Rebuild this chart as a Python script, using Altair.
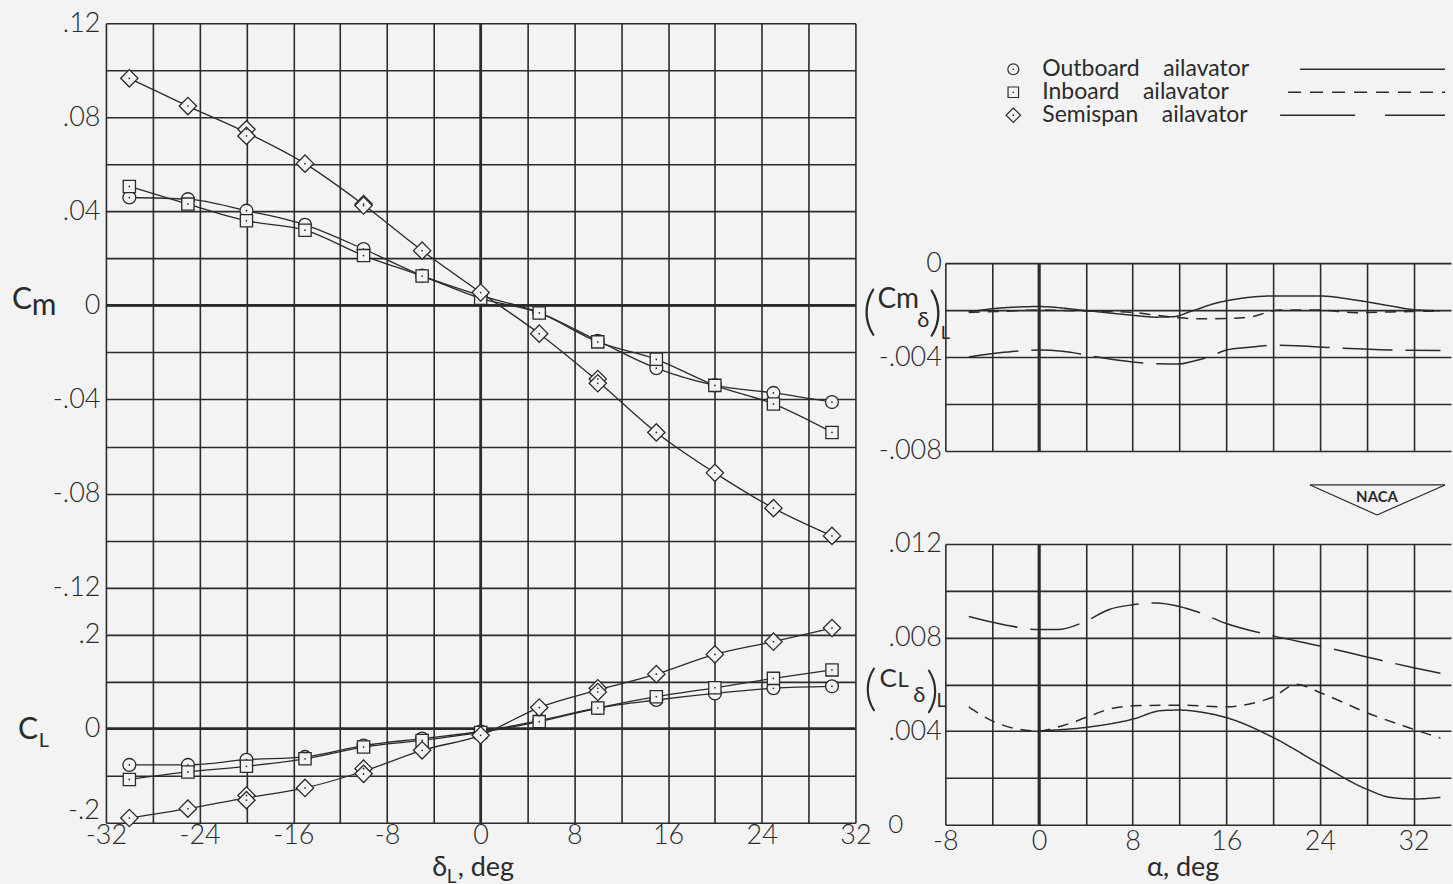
import altair as alt
import pandas as pd

BG = "#f3f3f3"
INK = "#2b2b2b"
FONT = "Lato"
NBSP = "\u00a0"

# ---------------- left panel: Cm and CL against delta_L ----------------
delta_deg = [-30, -25, -20, -15, -10, -5, 0, 5, 10, 15, 20, 25, 30]
cm_outboard = [0.0459, 0.0452, 0.0403, 0.0343, 0.0240, 0.0127, 0.0042, -0.0030, -0.0150, -0.0267, -0.0340, -0.0372, -0.0411]
cm_inboard = [0.0506, 0.0431, 0.0360, 0.0320, 0.0212, 0.0125, 0.0030, -0.0032, -0.0155, -0.0229, -0.0340, -0.0419, -0.0540]
cm_semispan = [0.0966, 0.0848, 0.0749, 0.0603, 0.0431, 0.0233, 0.0055, -0.0120, -0.0313, -0.0540, -0.0712, -0.0862, -0.0980]
cl_outboard = [-0.077, -0.077, -0.066, -0.060, -0.036, -0.021, -0.006, 0.017, 0.044, 0.061, 0.075, 0.086, 0.090]
cl_inboard = [-0.108, -0.092, -0.080, -0.064, -0.039, -0.025, -0.008, 0.015, 0.044, 0.068, 0.087, 0.107, 0.125]
cl_semispan = [-0.190, -0.170, -0.142, -0.126, -0.085, -0.046, -0.014, 0.045, 0.086, 0.116, 0.158, 0.185, 0.214]
# repeat runs of the semispan ailavator
rep_delta = [-20, -10, 10]
rep_cm = [0.0721, 0.0425, -0.0331]
rep_cl = [-0.152, -0.096, 0.078]

# ---------------- right panels: derivatives against alpha ----------------
alpha_cm_out = [-6, -3, 0, 4, 8, 10, 11.5, 13, 15, 17, 20, 24, 27, 30, 32, 34.3]
cmd_out = [-0.00207, -0.0019, -0.00185, -0.00202, -0.00222, -0.0023, -0.00228, -0.00205, -0.00172, -0.00152, -0.0014, -0.0014, -0.00157, -0.00182, -0.00198, -0.00203]
alpha_cm_in = [-6, -3, 0, 4, 8, 10, 12, 14, 16, 18, 19.5, 20.5, 24, 27, 30, 34.3]
cmd_in = [-0.0021, -0.00205, -0.002, -0.00204, -0.0021, -0.00222, -0.00233, -0.00237, -0.00236, -0.0023, -0.0021, -0.002, -0.002, -0.00211, -0.00208, -0.00204]
alpha_cm_semi = [-6, -3, 0, 2, 5, 8, 10, 12, 13, 14.5, 16, 18, 20, 22, 26, 30, 34.3]
cmd_semi = [-0.004, -0.0038, -0.0037, -0.00375, -0.004, -0.00421, -0.00428, -0.0043, -0.0042, -0.004, -0.0037, -0.00358, -0.0035, -0.00352, -0.00363, -0.0037, -0.00372]

alpha_cl_out = [0, 4, 8, 10.5, 12, 14, 16, 20, 24, 28, 30, 32, 34.3]
cld_out = [0.00401, 0.00416, 0.00451, 0.00488, 0.0049, 0.0048, 0.00458, 0.00373, 0.00259, 0.00152, 0.00117, 0.0011, 0.00117]
alpha_cl_in = [-6, -4, -2, 0, 2, 4, 6, 8, 12, 16, 18.5, 20, 22, 24, 28, 32, 34.3]
cld_in = [0.00504, 0.00444, 0.00411, 0.00401, 0.00423, 0.00458, 0.00494, 0.00508, 0.00511, 0.00504, 0.00522, 0.00546, 0.006, 0.00565, 0.00479, 0.00408, 0.0037]
alpha_cl_semi = [-6, -3, 0, 1.6, 4, 6, 8, 10, 12, 13.5, 16, 20, 24, 28, 32, 34.3]
cld_semi = [0.0089, 0.00855, 0.00834, 0.00834, 0.0087, 0.0092, 0.0094, 0.00948, 0.00933, 0.0091, 0.0086, 0.00807, 0.00764, 0.00717, 0.00671, 0.00647]

# ---------------- series, ticks, labels ----------------
series_keys = ["outboard", "inboard", "semispan"]
series_names = ["Outboard ailavator", "Inboard ailavator", "Semispan ailavator"]
series_shapes = ["circle", "square", "diamond"]
series_sizes = [165, 150, 300]
legend_sizes = [120, 110, 210]
series_dash = [[1, 0], [11, 8], [50, 13]]

left_x_grid = [-32, -28, -24, -20, -16, -12, -8, -4, 0, 4, 8, 12, 16, 20, 24, 28, 32]
left_x_labels = [-32, -24, -16, -8, 0, 8, 16, 24, 32]
cm_grid = [0.12, 0.10, 0.08, 0.06, 0.04, 0.02, 0.0, -0.02, -0.04, -0.06, -0.08, -0.10,
           -0.12, -0.14, -0.16, -0.18, -0.20, -0.22]
cm_label_values = [0.12, 0.08, 0.04, 0.0, -0.04, -0.08, -0.12]
cm_label_text = [".12", ".08", ".04", "0", "-.04", "-.08", "-.12"]
cl_label_values = [0.2, 0.0]
cl_label_text = [".2", "0"]
cl_bottom_label = "-.2"          # lowest CL label, lifted clear of the x labels as in the original
CM_DOMAIN = [-0.22, 0.12]
CL_DOMAIN = [-0.2, 1.5]

right_x_grid = [-8, -4, 0, 4, 8, 12, 16, 20, 24, 28, 32]
right_x_labels = [-8, 0, 8, 16, 24, 32]
top_y_grid = [0.0, -0.002, -0.004, -0.006, -0.008]
top_label_values = [0.0, -0.004, -0.008]
top_label_text = ["0", "-.004", "-.008"]
bot_y_grid = [0.012, 0.010, 0.008, 0.006, 0.004, 0.002, 0.0]
bot_label_values = [0.012, 0.008, 0.004]
bot_label_text = [".012", ".008", ".004"]
bot_zero_label = "0"


def label_expr(values, texts):
    expr = "''"
    for v, t in zip(reversed(values), reversed(texts)):
        expr = f"(abs(datum.value - ({v!r})) < 1e-7 ? '{t}' : {expr})"
    return expr


def note(text, x, y, size, align="center", baseline="alphabetic", weight=400):
    return alt.Chart(pd.DataFrame({"t": [text]})).mark_text(
        align=align, baseline=baseline, fontSize=size, font=FONT, color=INK, fontWeight=weight
    ).encode(x=alt.value(x), y=alt.value(y), text="t:N")


def pin(x, y):
    return alt.Chart(pd.DataFrame({"t": [0]})).mark_rule(color=BG, strokeWidth=0.5).encode(
        x=alt.value(x), x2=alt.value(x + 1), y=alt.value(y), y2=alt.value(y + 1)
    )


# CL tick labels sit on the shared grid: convert their CL values to grid (Cm) positions
cl_label_pos = [CM_DOMAIN[0] + (v - CL_DOMAIN[0]) / (CL_DOMAIN[1] - CL_DOMAIN[0]) * (CM_DOMAIN[1] - CM_DOMAIN[0])
                for v in cl_label_values]

dash_enc = alt.StrokeDash("series:N", scale=alt.Scale(domain=series_keys, range=series_dash), legend=None)

# ---------------- left chart ----------------
rows = []
for key, cms, cls in zip(series_keys, [cm_outboard, cm_inboard, cm_semispan], [cl_outboard, cl_inboard, cl_semispan]):
    for d, cm, cl in zip(delta_deg, cms, cls):
        rows.append({"series": key, "delta": d, "Cm": cm, "CL": cl})
for d, cm, cl in zip(rep_delta, rep_cm, rep_cl):
    rows.append({"series": "semispan", "delta": d, "Cm": cm, "CL": cl})
left_df = pd.DataFrame(rows)

xs_left = alt.Scale(domain=[-32, 32], nice=False, zero=False)
cm_scale = alt.Scale(domain=CM_DOMAIN, nice=False, zero=False)
cl_scale = alt.Scale(domain=CL_DOMAIN, nice=False, zero=False)
x_axis_left = alt.Axis(values=left_x_grid, title=None, grid=True, labelPadding=0,
                       labelExpr=label_expr(left_x_labels, [str(v) for v in left_x_labels]))
y_axis_left = alt.Axis(values=cm_grid, title=None, grid=True, labelPadding=6,
                       labelExpr=label_expr(cm_label_values + cl_label_pos, cm_label_text + cl_label_text))
XL = alt.X("delta:Q", scale=xs_left, axis=x_axis_left)

base = alt.Chart(left_df)
heavy_x = alt.Chart(pd.DataFrame({"delta": [0]})).mark_rule(color=INK, strokeWidth=2.8).encode(x=XL)
heavy_cm = alt.Chart(pd.DataFrame({"Cm": [0.0]})).mark_rule(color=INK, strokeWidth=2.8).encode(
    y=alt.Y("Cm:Q", scale=cm_scale, axis=None))
heavy_cl = alt.Chart(pd.DataFrame({"CL": [0.0]})).mark_rule(color=INK, strokeWidth=2.8).encode(
    y=alt.Y("CL:Q", scale=cl_scale, axis=None))
cm_line = base.mark_line(color=INK, strokeWidth=1.3, interpolate="monotone").encode(
    x=XL, y=alt.Y("mean(Cm):Q", scale=cm_scale, axis=y_axis_left), detail="series:N")
cl_line = base.mark_line(color=INK, strokeWidth=1.3, interpolate="monotone").encode(
    x=XL, y=alt.Y("mean(CL):Q", scale=cl_scale, axis=None), detail="series:N")

point_layers = []
for key, shp, sz in zip(series_keys, series_shapes, series_sizes):
    sub = base.transform_filter(f"datum.series == '{key}'")
    for field, scl in (("Cm", cm_scale), ("CL", cl_scale)):
        point_layers.append(
            sub.mark_point(filled=True, fill=BG, stroke=INK, strokeWidth=1.3, opacity=1, shape=shp, size=sz)
            .encode(x=XL, y=alt.Y(f"{field}:Q", scale=scl, axis=None)))
        point_layers.append(
            sub.mark_point(filled=True, size=3, color=INK, opacity=1, shape="circle")
            .encode(x=XL, y=alt.Y(f"{field}:Q", scale=scl, axis=None)))

left = alt.layer(
    heavy_x, heavy_cm, heavy_cl, cm_line, cl_line, *point_layers,
    note("C", -84, 286, 30), note("m", -62, 292, 30),
    note("C", -78, 716, 30), note("L", -62, 724, 20),
    note(cl_bottom_label, -6, 788, 27, align="right", baseline="middle", weight=300),
    note("δ", 334, 853, 27), note("L", 346, 860, 19), note(", deg", 352, 853, 27, align="left"),
    pin(-105, -22),
).resolve_scale(y="independent").properties(width=750, height=800)

# ---------------- right panels ----------------
xs_right = alt.Scale(domain=[-8, 35.2], nice=False, zero=False)
XR_top = alt.X("alpha:Q", scale=xs_right,
               axis=alt.Axis(values=right_x_grid, labels=False, grid=True, title=None))
XR_bot = alt.X("alpha:Q", scale=xs_right,
               axis=alt.Axis(values=right_x_grid, grid=True, title=None, labelPadding=4,
                             labelExpr=label_expr(right_x_labels, [str(v) for v in right_x_labels])))


def long_df(alphas, values):
    out = []
    for key, al, vals in zip(series_keys, alphas, values):
        for a, v in zip(al, vals):
            out.append({"series": key, "alpha": a, "v": v})
    return pd.DataFrame(out)


top_df = long_df([alpha_cm_out, alpha_cm_in, alpha_cm_semi], [cmd_out, cmd_in, cmd_semi])
bot_df = long_df([alpha_cl_out, alpha_cl_in, alpha_cl_semi], [cld_out, cld_in, cld_semi])

top_y = alt.Y("v:Q", scale=alt.Scale(domain=[-0.008, 0], nice=False, zero=False),
              axis=alt.Axis(values=top_y_grid, title=None, grid=True, labelPadding=4,
                            labelExpr=label_expr(top_label_values, top_label_text)))
bot_y = alt.Y("v:Q", scale=alt.Scale(domain=[0, 0.012], nice=False, zero=False),
              axis=alt.Axis(values=bot_y_grid, title=None, grid=True, labelPadding=4,
                            labelExpr=label_expr(bot_label_values, bot_label_text)))

top = alt.layer(
    alt.Chart(pd.DataFrame({"alpha": [0]})).mark_rule(color=INK, strokeWidth=2.8).encode(x=XR_top),
    alt.Chart(top_df).mark_line(color=INK, strokeWidth=1.5, interpolate="monotone").encode(
        x=XR_top, y=top_y, strokeDash=dash_enc),
    note("(", -76, 50, 54, baseline="middle", weight=300),
    note("Cm", -68, 45, 28, align="left"),
    note("δ", -22, 64, 22),
    note(")", -10, 51, 54, baseline="middle", weight=300),
    note("L", 0, 76, 18),
).properties(width=506, height=188)

bottom = alt.layer(
    alt.Chart(pd.DataFrame({"alpha": [0]})).mark_rule(color=INK, strokeWidth=2.8).encode(x=XR_bot),
    alt.Chart(bot_df).mark_line(color=INK, strokeWidth=1.5, interpolate="monotone").encode(
        x=XR_bot, y=bot_y, strokeDash=dash_enc),
    note("(", -75, 146, 50, baseline="middle", weight=300),
    note("C", -66, 143, 26, align="left"),
    note("L", -48, 143, 22, align="left"),
    note("δ", -26, 158, 22),
    note(")", -13, 148, 50, baseline="middle", weight=300),
    note("L", -4, 163, 19),
    note(bot_zero_label, -42, 281, 26, align="right", baseline="middle", weight=300),
    note("α, deg", 238, 332, 27),
    # NACA mark
    alt.Chart(pd.DataFrame({"t": [0]})).mark_rule(color=INK, strokeWidth=1.2).encode(
        x=alt.value(365), x2=alt.value(500), y=alt.value(-59), y2=alt.value(-59)),
    alt.Chart(pd.DataFrame({"t": [0]})).mark_rule(color=INK, strokeWidth=1.2).encode(
        x=alt.value(365), x2=alt.value(432), y=alt.value(-59), y2=alt.value(-29)),
    alt.Chart(pd.DataFrame({"t": [0]})).mark_rule(color=INK, strokeWidth=1.2).encode(
        x=alt.value(500), x2=alt.value(432), y=alt.value(-59), y2=alt.value(-29)),
    note("NACA", 432, -47, 15, baseline="middle", weight=700),
    pin(506, 339),
).properties(width=506, height=281)

# ---------------- legend ----------------
leg_df = pd.DataFrame({
    "series": series_keys,
    "name": [n.replace(" ", NBSP * 4) for n in series_names],
    "row": [0, 1, 2],
})
leg_rows = "46 + 23 * datum.row"
LY = alt.Y("ly:Q", scale=alt.Scale(domain=[0, 147], reverse=True, nice=False, zero=False), axis=None)
leg_base = alt.Chart(leg_df).transform_calculate(ly=leg_rows)
leg_layers = [
    leg_base.mark_text(align="left", baseline="middle", fontSize=23, font=FONT, color=INK).encode(
        x=alt.value(97), y=LY, text="name:N"),
]
for key, shp, sz, x0, dash in zip(series_keys, series_shapes, legend_sizes,
                                  [355, 343, 335], [[1, 0], [13, 9], [75, 30]]):
    sub = leg_base.transform_filter(f"datum.series == '{key}'")
    leg_layers.append(sub.mark_rule(color=INK, strokeWidth=1.3, strokeDash=dash)
                      .encode(x=alt.value(x0), x2=alt.value(500), y=LY))
    leg_layers.append(sub.mark_point(filled=True, fill=BG, stroke=INK, strokeWidth=1.2, opacity=1,
                                     shape=shp, size=sz).encode(x=alt.value(68), y=LY))
    leg_layers.append(sub.mark_point(filled=True, size=3, color=INK, opacity=1, shape="circle")
                      .encode(x=alt.value(68), y=LY))
legend = alt.layer(*leg_layers).properties(width=506, height=147)

right = alt.vconcat(legend, top, bottom, spacing=93, bounds="flush")

chart = alt.hconcat(left, right, spacing=90, bounds="flush").properties(
    padding=0
).configure(
    background=BG
).configure_view(
    stroke="transparent"
).configure_axis(
    labelFont=FONT, labelFontSize=27, labelColor=INK, labelFontWeight=300,
    gridColor=INK, gridWidth=1.6, gridOpacity=1,
    domain=False, ticks=False, labelFlush=False, labelOverlap=False,
)

chart.save("out.html", embed_options={"renderer": "svg", "actions": False})
